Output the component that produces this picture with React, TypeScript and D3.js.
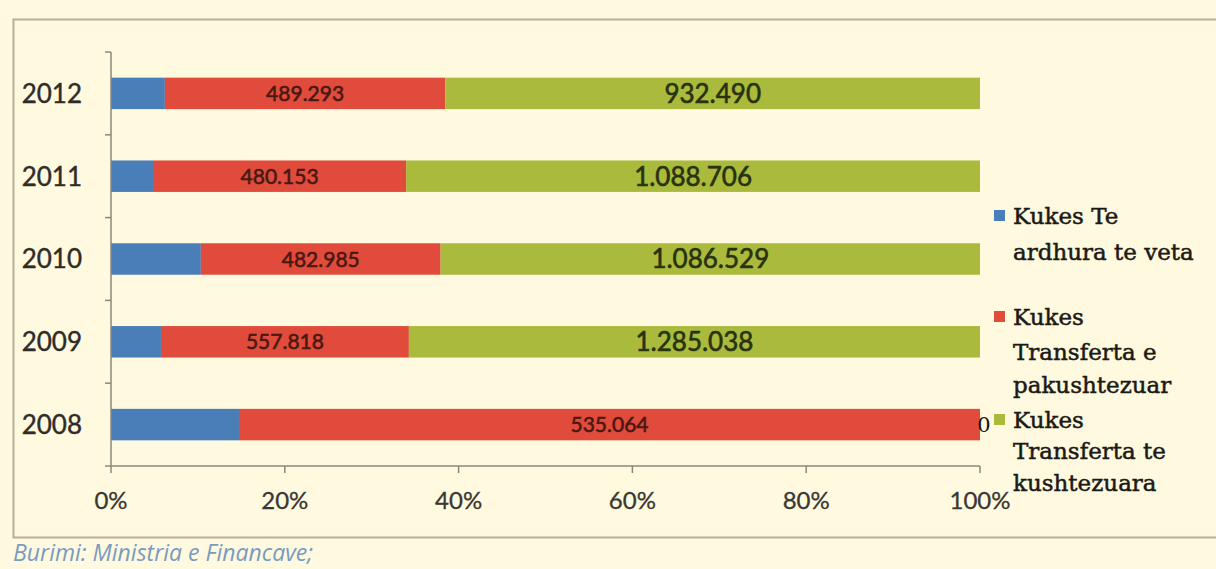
import React, { useEffect, useRef } from 'react';
import * as d3 from 'd3';

const years = ['2012', '2011', '2010', '2009', '2008'];
const seriesNames = [
  'Kukes Te ardhura te veta',
  'Kukes Transferta e pakushtezuar',
  'Kukes Transferta te kushtezuara',
];
// legend text is wrapped the same way as in the original
const legendLines = [
  ['Kukes Te', 'ardhura te veta'],
  ['Kukes', 'Transferta e', 'pakushtezuar'],
  ['Kukes', 'Transferta te', 'kushtezuara'],
];
const ownRevenue = [94000, 79700, 181000, 112400, 92400]; // not labelled
const unconditional = [489293, 480153, 482985, 557818, 535064];
const conditional = [932490, 1088706, 1086529, 1285038, 0];
const tickLabels = ['0%', '20%', '40%', '60%', '80%', '100%'];
const sourceNote = 'Burimi: Ministria e Financave;';

const colors = ['#4a7eb8', '#e04b3b', '#a9ba3c'];

const W = 1216;
const H = 569;

const App: React.FC = () => {
  const svgRef = useRef<SVGSVGElement>(null);

  useEffect(() => {
    if (!svgRef.current) return;
    const svg = d3.select(svgRef.current);
    svg.selectAll('*').remove();

    const left = 111;
    const right = 980;
    const top = 52;
    const bottom = 466;
    const axisColor = '#8e8778';

    const x = d3.scaleLinear().domain([0, 1]).range([left, right]);
    const y = d3.scaleBand<string>().domain(years).range([top, bottom]).paddingInner(0.62).paddingOuter(0.31);

    const fmt = d3.formatLocale({ decimal: ',', thousands: '.', grouping: [3], currency: ['', ''] }).format(',');

    // background + frame
    svg.append('rect').attr('width', W).attr('height', H).attr('fill', '#fef9df');
    svg.append('rect')
      .attr('x', 13.5).attr('y', 19.5)
      .attr('width', W - 12).attr('height', 518)
      .attr('fill', 'none')
      .attr('stroke', '#b7ae98')
      .attr('stroke-width', 2);

    // normalised stacks
    const rows = years.map((yr, i) => {
      const vals = [ownRevenue[i], unconditional[i], conditional[i]];
      const total = d3.sum(vals);
      let acc = 0;
      const segs = vals.map((v, k) => {
        const s = { year: yr, k, value: v, x0: acc / total, x1: (acc + v) / total };
        acc += v;
        return s;
      });
      return segs;
    });

    const g = svg.append('g');
    g.selectAll('rect')
      .data(rows.flat())
      .enter()
      .append('rect')
      .attr('x', d => x(d.x0))
      .attr('width', d => x(d.x1) - x(d.x0))
      .attr('y', d => y(d.year)!)
      .attr('height', y.bandwidth())
      .attr('fill', d => colors[d.k]);

    // data labels for the two transfer series
    const labelled = rows.flat().filter(d => d.k > 0);
    const labelColor = (d: { value: number; k: number }) =>
      d.value === 0 ? '#111' : d.k === 1 ? '#4a1812' : '#29320f';
    g.selectAll('text.lbl')
      .data(labelled)
      .enter()
      .append('text')
      .attr('class', 'lbl')
      .attr('x', d => (d.value === 0 ? x(d.x1) + 4 : (x(d.x0) + x(d.x1)) / 2))
      .attr('y', d => y(d.year)! + y.bandwidth() / 2)
      .attr('dy', '0.36em')
      .attr('text-anchor', 'middle')
      .attr('font-family', d => (d.value === 0 ? 'DejaVu Serif' : 'Lato'))
      .attr('font-size', d => (d.k === 1 ? 21 : d.value === 0 ? 21 : 26))
      .attr('fill', labelColor)
      .attr('stroke', labelColor)
      .attr('stroke-width', d => (d.value === 0 ? 0 : 0.6))
      .text(d => fmt(d.value));

    // y axis
    const step = y.step();
    svg.append('line')
      .attr('x1', left).attr('x2', left)
      .attr('y1', top).attr('y2', bottom)
      .attr('stroke', axisColor).attr('stroke-width', 1.5);
    svg.append('g')
      .selectAll('line')
      .data(d3.range(years.length + 1))
      .enter()
      .append('line')
      .attr('x1', left - 6).attr('x2', left)
      .attr('y1', i => top + i * step).attr('y2', i => top + i * step)
      .attr('stroke', axisColor).attr('stroke-width', 1.5);
    svg.append('g')
      .selectAll('text')
      .data(years)
      .enter()
      .append('text')
      .attr('x', 82)
      .attr('y', d => y(d)! + y.bandwidth() / 2)
      .attr('dy', '0.36em')
      .attr('text-anchor', 'end')
      .attr('font-family', 'Lato')
      .attr('font-size', 26)
      .attr('fill', '#2e2c28')
      .attr('stroke', '#2e2c28')
      .attr('stroke-width', 0.4)
      .text(d => d);

    // x axis
    svg.append('line')
      .attr('x1', left).attr('x2', right)
      .attr('y1', bottom).attr('y2', bottom)
      .attr('stroke', axisColor).attr('stroke-width', 1.5);
    const ticks = x.ticks(5);
    svg.append('g')
      .selectAll('line')
      .data(ticks)
      .enter()
      .append('line')
      .attr('x1', d => x(d)).attr('x2', d => x(d))
      .attr('y1', bottom).attr('y2', bottom + 7)
      .attr('stroke', axisColor).attr('stroke-width', 1.5);
    svg.append('g')
      .selectAll('text')
      .data(ticks)
      .enter()
      .append('text')
      .attr('x', d => x(d))
      .attr('y', 509)
      .attr('text-anchor', 'middle')
      .attr('font-family', 'Lato')
      .attr('font-size', 24)
      .attr('fill', '#3a3731')
      .attr('stroke', '#3a3731')
      .attr('stroke-width', 0.3)
      .text((d, i) => tickLabels[i]);

    // legend
    const baselines = [[224, 260], [325, 360, 393], [428, 459, 491]];
    const lg = svg.append('g');
    seriesNames.forEach((name, k) => {
      const item = lg.append('g').attr('aria-label', name);
      item.append('rect')
        .attr('x', 994).attr('y', baselines[k][0] - 14)
        .attr('width', 11).attr('height', 11)
        .attr('fill', colors[k]);
      item.selectAll('text')
        .data(legendLines[k])
        .enter()
        .append('text')
        .attr('x', 1013)
        .attr('y', (d, j) => baselines[k][j])
        .attr('font-family', 'DejaVu Serif')
        .attr('font-size', 23)
        .attr('fill', '#1c1a16')
        .attr('stroke', '#1c1a16')
        .attr('stroke-width', 0.5)
        .text(d => d);
    });

    // source
    svg.append('text')
      .attr('x', 13).attr('y', 561)
      .attr('font-family', 'Open Sans')
      .attr('font-style', 'italic')
      .attr('font-size', 23)
      .attr('fill', '#7a9bc0')
      .text(sourceNote);
  }, []);

  return (
    <svg
      ref={svgRef}
      width={W}
      height={H}
      viewBox={`0 0 ${W} ${H}`}
      style={{ position: 'absolute', left: 0, top: 0, display: 'block' }}
    />
  );
};

export default App;
